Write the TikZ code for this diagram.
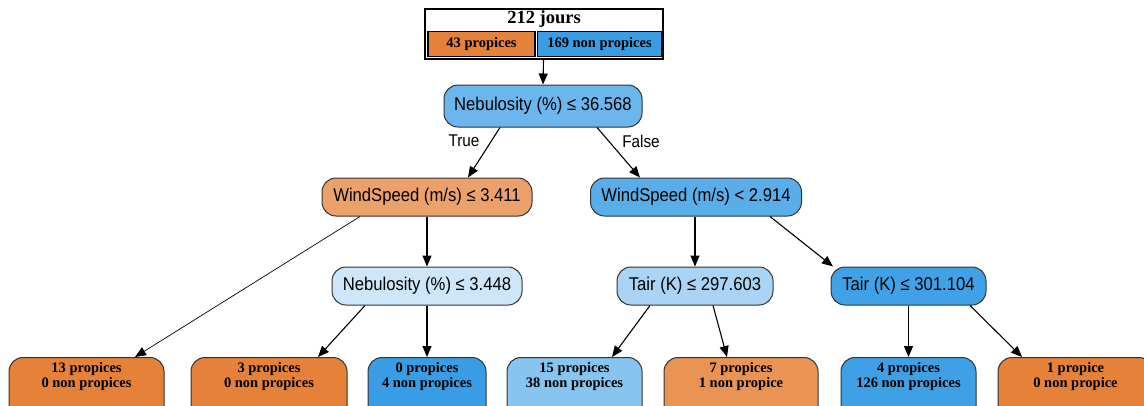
\documentclass[tikz,border=0pt]{standalone}
\usepackage{fontspec}
\setmainfont{Liberation Serif}
\newfontfamily\nsans[FakeStretch=0.9]{Liberation Sans}
\usetikzlibrary{arrows.meta}
\definecolor{cOr}{HTML}{E58139}
\definecolor{cBl}{HTML}{399DE5}
\definecolor{cRoot}{HTML}{6BB6EC}
\definecolor{cWL}{HTML}{ECA16B}
\definecolor{cWR}{HTML}{59ADE9}
\definecolor{cN2}{HTML}{CEE6F8}
\definecolor{cT1}{HTML}{A9D4F4}
\definecolor{cT2}{HTML}{41A1E6}
\definecolor{cL4}{HTML}{87C4EF}
\definecolor{cL5}{HTML}{E99355}
\definecolor{cL6}{HTML}{3FA0E6}
\begin{document}
\begin{tikzpicture}[x=1pt,y=-1pt,
  dec/.style={draw=black!80, line width=1pt, rounded corners=14pt,
    font=\nsans\fontsize{18.5}{20}\selectfont, inner sep=0pt, minimum height=38pt},
  leaf/.style={draw=black!80, line width=1pt, rounded corners=14pt,
    font=\bfseries\fontsize{14.5}{14.5}\selectfont, align=center, anchor=north,
    inner xsep=0pt, inner ysep=5pt, text depth=35pt},
  edge/.style={-{Triangle[length=11pt,width=9pt]}, line width=1.1pt},
  lab/.style={font=\nsans\fontsize{17}{18}\selectfont, inner sep=0pt},
  cell/.style={draw=black, line width=1.6pt, inner sep=0pt, minimum height=25pt,
    font=\bfseries\fontsize{14.5}{16}\selectfont}]
\clip (0,0) rectangle (1144,405);
\fill[white] (0,0) rectangle (1144,405);
% header
\node[draw=black, line width=2pt, minimum width=238pt, minimum height=50pt, inner sep=0pt] (hdr) at (544,34) {};
\node[font=\bfseries\fontsize{18.5}{20}\selectfont, inner sep=0pt] (title) at (544,19) {212 jours};
\node[cell, fill=cOr, minimum width=107pt] (c1) at (481.5,44) {43 propices};
\node[cell, fill=cBl, minimum width=124pt] (c2) at (599.5,44) {169 non propices};
% decision nodes
\node[dec, fill=cRoot, minimum width=198pt, minimum height=42pt] (root) at (543,106) {Nebulosity (\%) ≤ 36.568};
\node[dec, fill=cWL, minimum width=210pt] (wl) at (427,197) {WindSpeed (m/s) ≤ 3.411};
\node[dec, fill=cWR, minimum width=211pt] (wr) at (696,197) {WindSpeed (m/s) < 2.914};
\node[dec, fill=cN2, minimum width=190pt] (n2) at (427,286) {Nebulosity (\%) ≤ 3.448};
\node[dec, fill=cT1, minimum width=156pt] (t1) at (695,286) {Tair (K) ≤ 297.603};
\node[dec, fill=cT2, minimum width=155pt] (t2) at (908.5,286) {Tair (K) ≤ 301.104};
% leaves
\node[leaf, fill=cOr, minimum width=155pt] (l1) at (86.5,357) {13 propices\\0 non propices};
\node[leaf, fill=cOr, minimum width=156pt] (l2) at (269,357) {3 propices\\0 non propices};
\node[leaf, fill=cBl, minimum width=118pt] (l3) at (427,357) {0 propices\\4 non propices};
\node[leaf, fill=cL4, minimum width=135pt] (l4) at (574.5,357) {15 propices\\38 non propices};
\node[leaf, fill=cL5, minimum width=154pt] (l5) at (741,357) {7 propices\\1 non propice};
\node[leaf, fill=cL6, minimum width=135pt] (l6) at (908.5,357) {4 propices\\126 non propices};
\node[leaf, fill=cOr, minimum width=155pt] (l7) at (1075.5,357) {1 propice\\0 non propice};
% edges
\draw[edge] ([xshift=-0.5pt]hdr.south) -- (root.north);
\draw[edge] ([xshift=-43pt]root.south) -- ([xshift=41pt]wl.north);
\draw[edge] ([xshift=54pt]root.south) -- ([xshift=-56pt]wr.north);
\draw[edge, line width=0.7pt] ([xshift=-67pt]wl.south) -- ([xshift=48.5pt]l1.north);
\draw[edge] (wl.south) -- (n2.north);
\draw[edge] ([xshift=-62pt]n2.south) -- ([xshift=49pt]l2.north);
\draw[edge] (n2.south) -- (l3.north);
\draw[edge] ([xshift=-1pt]wr.south) -- (t1.north);
\draw[edge] ([xshift=74pt]wr.south) -- ([xshift=-75.5pt]t2.north);
\draw[edge] ([xshift=-45pt]t1.south) -- ([xshift=37.5pt]l4.north);
\draw[edge] ([xshift=18pt]t1.south) -- ([xshift=-14pt]l5.north);
\draw[edge] (t2.south) -- (l6.north);
\draw[edge] ([xshift=61.5pt]t2.south) -- ([xshift=-53.5pt]l7.north);
% branch labels
\node[lab] (ltrue) at (464,141) {True};
\node[lab] (lfalse) at (641,141) {False};
\end{tikzpicture}
\end{document}
